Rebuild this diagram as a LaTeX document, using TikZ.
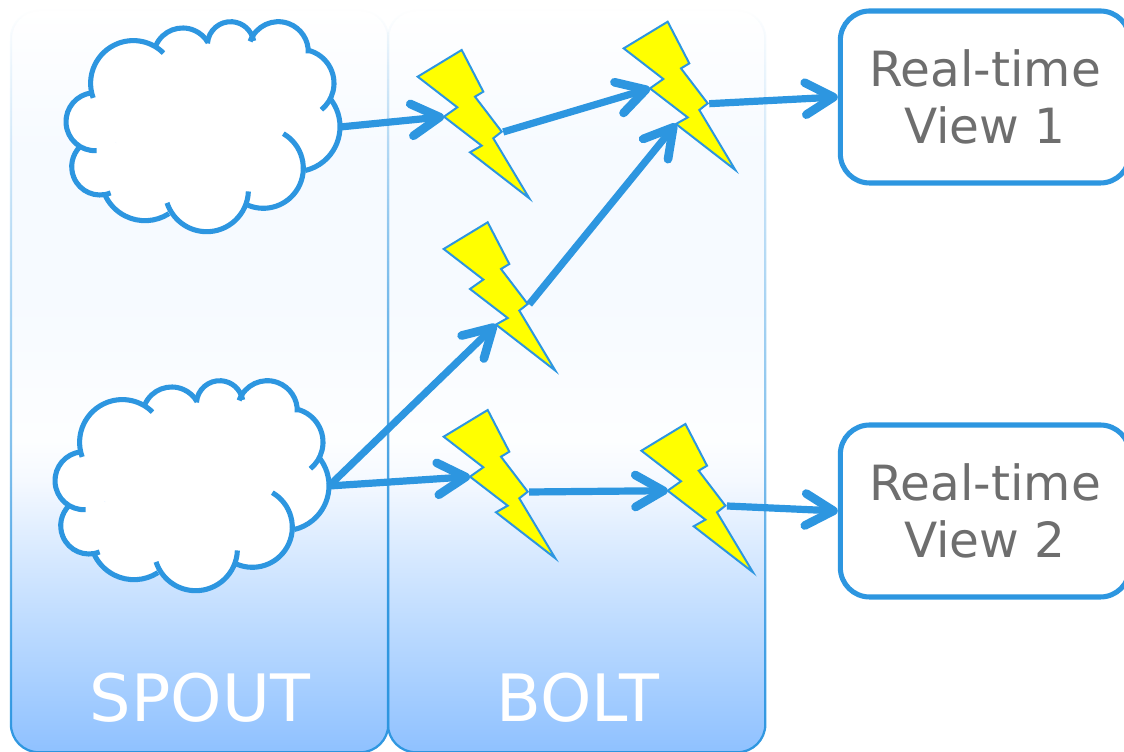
\documentclass[tikz,border=0pt]{standalone}
\usepackage{fontspec}
\setmainfont{DejaVu Sans}
\usetikzlibrary{arrows.meta}
\usetikzlibrary{fadings}

\definecolor{stormblue}{HTML}{2D96E0}
\definecolor{viewgrey}{HTML}{6E6E6E}
\definecolor{boltyellow}{HTML}{FFFF00}
\definecolor{shadeA}{HTML}{8FC1FF}
\definecolor{shadeB}{HTML}{B4D6FF}
\definecolor{shadeC}{HTML}{D5E8FF}
\definecolor{shadeD}{HTML}{F5F9FF}
\definecolor{shadeE}{HTML}{FDFEFF}
\definecolor{shadeF}{HTML}{F6FAFF}
\pgfdeclareverticalshading{panelshade}{100bp}{color(0bp)=(shadeA); color(25bp)=(shadeA); color(31.9bp)=(shadeB); color(37.9bp)=(shadeC); color(43.3bp)=(shadeD); color(46bp)=(shadeE); color(55.5bp)=(shadeF); color(65.6bp)=(shadeF); color(75bp)=(white); color(100bp)=(white)}
\tikzfading[name=edgefade, top color=transparent!100, middle color=transparent!68, bottom color=transparent!0]

\begin{document}
\begin{tikzpicture}[x=0.75pt, y=0.75pt]
	\tikzstyle{panelStyle} = [rectangle, rounded corners=21pt, anchor=south west, minimum width=282.75pt, minimum height=556.5pt, shading=panelshade, inner sep=0pt]
	\tikzstyle{panelEdge} = [draw=stormblue, line width=1.7pt, rounded corners=21pt, path fading=edgefade]
	\tikzstyle{panelLabel} = [text=white, font=\fontsize{49}{58}\selectfont, anchor=base]
	\tikzstyle{viewStyle} = [draw=stormblue, line width=3.8pt, fill=white, rectangle, rounded corners=22pt, minimum width=217pt, minimum height=129pt, text=viewgrey, align=center, font=\fontsize{36.4}{42.75}\selectfont]
	\tikzstyle{flowStyle} = [draw=stormblue, line width=5.4pt, -{Straight Barb[length=21pt, width=24pt, line width=6.5pt, round]}]
	\tikzset{
		boltshape/.pic = {
			\draw[draw=stormblue, line width=1.5pt, fill=boltyellow, line join=miter]
				(0,0) -- (21.6,-41.7) -- (13.3,-46.7) -- (40,-81.7) -- (31.6,-88.3) -- (67.6,-148.3)
				-- (8.3,-102.3) -- (20,-95.7) -- (-17.7,-66.7) -- (-4.4,-57.3) -- (-44,-26.7) -- cycle;
			\coordinate (-in) at (-17.7,-66.7);
			\coordinate (-low) at (8.3,-102.3);
			\coordinate (-out) at (41.5,-82);
		},
		cloudshape/.pic = {
			% white body first, then the lobes on top
			\fill[white] (0,0) circle [radius=85];
			\foreach \cx/\cy/\r in {-66.7/44.7/42.7, -17.3/70.7/29.3, 30.7/83/23.3, 78.3/76.3/30, 100/44.7/34, 95/1.3/45, 63.3/-40.3/40, 6.7/-62/41.7, -55/-48.7/44, -100/-38.7/28.3, -105/6.3/29}
				\fill[white] (\cx,\cy) circle [radius=\r];
			\foreach \cx/\cy/\r/\a/\b in {-66.7/44.7/42.7/200/45, -17.3/70.7/29.3/156/30, 30.7/83/23.3/176/10, 78.3/76.3/30/160/-3, 100/44.7/34/76/-51, 95/1.3/45/40/-77, 63.3/-40.3/40/60/-113, 6.7/-62/41.7/-2/-162, -55/-48.7/44/-57/-158, -100/-38.7/28.3/-68/-226, -105/6.3/29/-87/-263.5}
				\draw[draw=stormblue, line width=3.8pt] (\cx,\cy) ++(\a:\r) arc (\a:\b:\r);
			\coordinate (-out) at (140,1);
		}
	}
	\useasboundingbox (0,0) rectangle (1124,752);
	\node[panelStyle] (spout) at (11,0) {};
	\node[panelStyle] (bolt) at (388,0) {};
	\draw[panelEdge] (spout.south west) rectangle (spout.north east);
	\draw[panelEdge] (bolt.south west) rectangle (bolt.north east);
	\node[panelLabel] (spoutLabel) at (200,30) {SPOUT};
	\node[panelLabel] (boltLabel) at (578,30) {BOLT};
	\node[viewStyle] (view1) at (985,655) {Real-time\\View 1};
	\node[viewStyle] (view2) at (985,241) {Real-time\\View 2};
	\pic (c1) at (200,624) {cloudshape};
	\pic (c2) at (189,265) {cloudshape};
	\pic (b1) at (461.7,702) {boltshape};
	\pic (b2) at (667.7,730.3) {boltshape};
	\pic (b3) at (487.7,529.7) {boltshape};
	\pic (b4) at (487.7,342) {boltshape};
	\pic (b5) at (685.4,328) {boltshape};
	\draw[flowStyle] (c1-out) -- (b1-in);
	\draw[flowStyle] (b1-out) -- (b2-in);
	\draw[flowStyle] (b2-out) -- (view1.west);
	\draw[flowStyle] (b3-out) -- (b2-low);
	\draw[flowStyle] (c2-out) -- (b3-low);
	\draw[flowStyle] (c2-out) -- (b4-in);
	\draw[flowStyle] (b4-out) -- (b5-in);
	\draw[flowStyle] (b5-out) -- (view2.west);
\end{tikzpicture}
\end{document}
